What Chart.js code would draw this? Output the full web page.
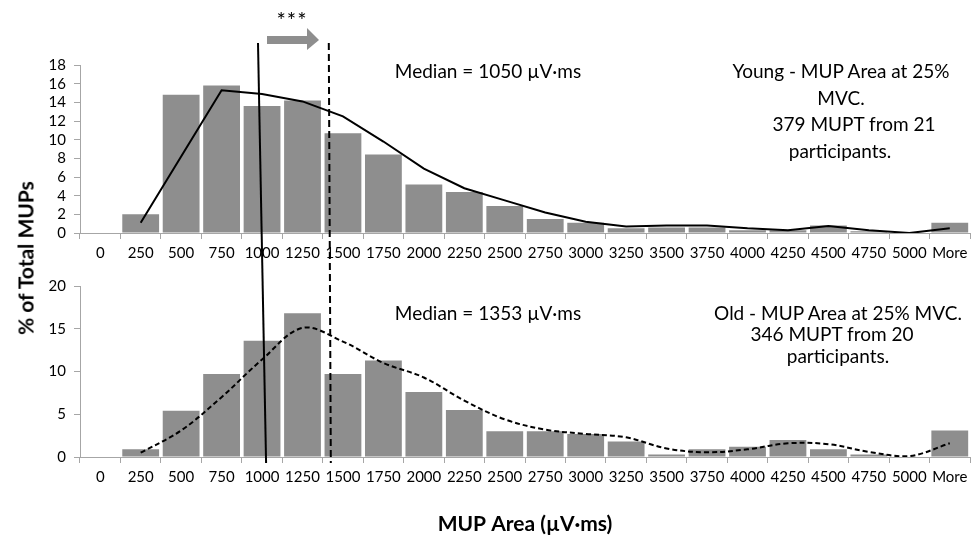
<!DOCTYPE html>
<html>
<head>
<meta charset="utf-8">
<script src="https://cdn.jsdelivr.net/npm/chart.js@4"></script>
<style>
  body { margin: 0; background: #fff; }
  #wrap { position: relative; width: 976px; height: 537px; font-family: Lato, sans-serif; color: #000; }
  canvas { position: absolute; left: 0; }
  #topChart { top: 0; }
  #bottomChart { top: 268px; }
  #overlay { top: 0; pointer-events: none; }
  .note { position: absolute; white-space: nowrap; font-size: 19px; transform: translate(-50%, -50%); }
  .axisTitle { font-weight: bold; font-size: 21px; }
</style>
</head>
<body>
<div id="wrap">
  <canvas id="topChart" width="976" height="268"></canvas>
  <canvas id="bottomChart" width="976" height="269"></canvas>
  <canvas id="overlay" width="976" height="537"></canvas>
</div>
<script>
const categories = ['0', '250', '500', '750', '1000', '1250', '1500', '1750', '2000', '2250', '2500',
  '2750', '3000', '3250', '3500', '3750', '4000', '4250', '4500', '4750', '5000', 'More'];

// young, % of total MUPs per bin
const youngBars = [null, 2.0, 14.8, 15.8, 13.6, 14.2, 10.7, 8.4, 5.2, 4.4, 2.9,
  1.5, 1.1, 0.5, 0.6, 0.6, 0.3, 0.3, 0.8, 0.2, 0, 1.1];
const youngLine = [null, 1.1, 8.2, 15.3, 14.9, 14.1, 12.5, 9.8, 6.9, 4.8, 3.5,
  2.2, 1.2, 0.7, 0.8, 0.8, 0.5, 0.3, 0.75, 0.3, 0, 0.5];

// old
const oldBars = [null, 0.9, 5.4, 9.7, 13.6, 16.8, 9.7, 11.3, 7.6, 5.5, 3.0,
  3.0, 2.7, 1.8, 0.3, 0.9, 1.2, 2.0, 0.9, 0.3, 0, 3.1];
const oldLine = [null, 0.5, 3.1, 7.0, 11.4, 15.1, 13.5, 11.0, 9.3, 6.6, 4.4,
  3.2, 2.7, 2.3, 1.0, 0.55, 0.9, 1.6, 1.5, 0.6, 0.1, 1.6];

const youngMax = 18, youngStep = 2;
const oldMax = 20, oldStep = 5;

const barColor = '#8e8e8e';
const axisColor = '#a6a6a6';

Chart.defaults.font.family = 'Lato, sans-serif';
Chart.defaults.color = '#000';
Chart.defaults.animation = false;

function makePanel(id, bars, line, dashed, yMax, yStep, padTop, xHeight, xTitle) {
  return new Chart(document.getElementById(id), {
    type: 'bar',
    data: {
      labels: categories,
      datasets: [
        {
          type: 'line', data: line, borderColor: '#000', borderWidth: 2,
          borderDash: dashed ? [5, 3] : [], pointRadius: 0,
          tension: dashed ? 0.35 : 0, order: 0
        },
        {
          type: 'bar', data: bars, backgroundColor: barColor,
          barPercentage: 0.91, categoryPercentage: 1, order: 1
        }
      ]
    },
    options: {
      responsive: false,
      layout: { padding: { top: padTop, left: 0, right: 6, bottom: 0 } },
      plugins: { legend: { display: false }, tooltip: { enabled: false } },
      scales: {
        x: {
          offset: true,
          grid: { offset: true, drawOnChartArea: false, color: axisColor, tickLength: 6 },
          border: { color: axisColor },
          ticks: { font: { size: 15 }, padding: 5, maxRotation: 0, autoSkip: false },
          title: xTitle
            ? { display: true, text: xTitle, font: { size: 21, weight: 'bold' }, padding: { top: 0, bottom: 0 } }
            : { display: false },
          afterFit(s) { s.height = xHeight; }
        },
        y: {
          min: 0, max: yMax,
          ticks: { stepSize: yStep, font: { size: 15 }, padding: 8, autoSkip: false },
          grid: { drawOnChartArea: false, color: axisColor, tickLength: 6 },
          border: { color: axisColor },
          afterFit(s) { s.width = 80; }
        }
      }
    }
  });
}

const topChart = makePanel('topChart', youngBars, youngLine, false, youngMax, youngStep, 65, 35, null);
const bottomChart = makePanel('bottomChart', oldBars, oldLine, true, oldMax, oldStep, 18, 80, 'MUP Area (µV·ms)');

// median markers, arrow and stars across both panels
const botTop = 268;
const ov = document.getElementById('overlay').getContext('2d');
const tx = topChart.scales.x, bx = bottomChart.scales.x;
const yStart = topChart.chartArea.top - 22;
const yEnd = botTop + bottomChart.chartArea.bottom + 6;

ov.strokeStyle = '#000';
ov.lineWidth = 2;
ov.beginPath();
ov.moveTo(tx.getPixelForValue(3.9), yStart);
ov.lineTo(bx.getPixelForValue(4.1), yEnd);
ov.stroke();

ov.setLineDash([7, 4]);
ov.beginPath();
ov.moveTo(tx.getPixelForValue(5.65), yStart);
ov.lineTo(bx.getPixelForValue(5.7), yEnd);
ov.stroke();
ov.setLineDash([]);

ov.fillStyle = barColor;
ov.fillRect(267, 36, 41, 8);
ov.beginPath();
ov.moveTo(307, 28);
ov.lineTo(319, 40);
ov.lineTo(307, 50);
ov.closePath();
ov.fill();

const wrap = document.getElementById('wrap');
function addNote(text, x, y, extra) {
  const d = document.createElement('div');
  d.className = 'note' + (extra ? ' ' + extra : '');
  d.textContent = text;
  d.style.left = x + 'px';
  d.style.top = y + 'px';
  wrap.appendChild(d);
  return d;
}

const stars = addNote('***', 292, 19);
stars.style.fontSize = '22px';
stars.style.letterSpacing = '1px';

addNote('Median = 1050 µV·ms', 488, 70);
addNote('Young - MUP Area at 25%', 841, 70);
addNote('MVC.', 841, 97);
addNote('379 MUPT from 21', 854, 123);
addNote('participants.', 840, 150);

addNote('Median = 1353 µV·ms', 488, 312);
addNote('Old - MUP Area at 25% MVC.', 838, 312);
addNote('346 MUPT from 20', 832, 333);
addNote('participants.', 838, 355);

const yTitle = addNote('% of Total MUPs', 25, 258, 'axisTitle');
yTitle.style.transform = 'translate(-50%, -50%) rotate(-90deg)';
</script>
</body>
</html>
